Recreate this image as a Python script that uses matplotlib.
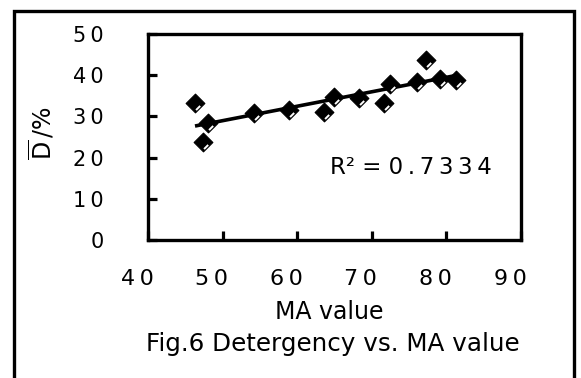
import numpy as np
import matplotlib
matplotlib.use("Agg")
import matplotlib.pyplot as plt
import matplotlib.transforms as mtransforms
from matplotlib.path import Path
from matplotlib.patches import Rectangle

# ---- data ----
ma_value = [46.3, 47.4, 48.1, 54.2, 58.9, 63.6, 65.0, 68.3, 71.7, 72.4, 76.1, 77.2, 79.2, 81.3]
detergency = [33.2, 23.9, 28.3, 30.8, 31.6, 31.1, 34.6, 34.4, 33.3, 37.9, 38.4, 43.7, 39.0, 38.8]
xticks = [40, 50, 60, 70, 80, 90]
yticks = [0, 10, 20, 30, 40, 50]
xtick_labels = ["40", "50", "60", "70", "80", "90"]
ytick_labels = ["0", "10", "20", "30", "40", "50"]
r2_text = "R² = 0.7334"
xlabel_text = "MA value"
caption_text = "Fig.6 Detergency vs. MA value"

TH = "\u2009"  # thin space used as letter spacing


def spaced(s):
    return TH.join(list(s))


plt.rcParams['font.family'] = ['DejaVu Sans']
plt.rcParams['mathtext.fontset'] = 'dejavusans'

W, H, DPI = 581, 378, 100
fig = plt.figure(figsize=(W / DPI, H / DPI), dpi=DPI)
fig.patch.set_facecolor('white')

# axes box in pixels: left 148, right 521, top 34, bottom 240
L, R, T, B = 148, 521, 34, 240
ax = fig.add_axes([L / W, 1 - B / H, (R - L) / W, (B - T) / H])
ax.set_xlim(40, 90)
ax.set_ylim(0, 50)

for sp in ax.spines.values():
    sp.set_linewidth(2.4)
    sp.set_color('black')

# trend line (least squares)
slope, intercept = np.polyfit(ma_value, detergency, 1)
xs = np.array([min(ma_value), max(ma_value)])
ax.plot(xs, slope * xs + intercept, color='black', lw=2.6, zorder=2,
        solid_capstyle='butt')

# diamond markers with white highlight streak
diamond = Path([(1, 0), (0, 1), (-1, 0), (0, -1), (1, 0)],
               [Path.MOVETO, Path.LINETO, Path.LINETO, Path.LINETO, Path.CLOSEPOLY])
streak = Path([(1, 1), (0.06, -0.70), (0.50, -0.26)],
              [Path.MOVETO, Path.MOVETO, Path.LINETO])
ms = 13.5
ax.plot(ma_value, detergency, ls='none', marker=diamond, ms=ms,
        mfc='black', mec='black', mew=0.8, zorder=3)
ax.plot(ma_value, detergency, ls='none', marker=streak, ms=ms,
        mfc='none', mec='white', mew=1.4, zorder=4)

# ticks
ax.set_xticks(xticks)
ax.set_xticklabels([spaced(s) for s in xtick_labels], fontsize=16)
ax.set_yticks(yticks)
ax.set_yticklabels([spaced(s) for s in ytick_labels], fontsize=15)
ax.tick_params(axis='x', direction='in', length=6.5, width=2.3, pad=21,
               top=False)
ax.tick_params(axis='y', direction='in', length=6.5, width=2.3, pad=32,
               right=False)
# x tick labels sit slightly left of their ticks in the reference
off = mtransforms.ScaledTranslation(-11 / DPI, 0, fig.dpi_scale_trans)
for lbl in ax.get_xticklabels():
    lbl.set_transform(lbl.get_transform() + off)

# axis labels
ax.set_xlabel(xlabel_text, fontsize=17)
ax.xaxis.label.set_va('baseline')
ax.xaxis.set_label_coords(0.485, (B - 319) / (B - T))

ax.set_ylabel('$\\overline{\\mathrm{D}}$' + TH + '/%', fontsize=17)
ax.yaxis.label.set_va('center')
ax.yaxis.set_label_coords((42 - L) / (R - L), (B - 133) / (B - T))

# R^2 annotation
r2_display = r2_text.split('=')[0] + '= ' + spaced(r2_text.split('= ')[1])
ax.text((330 - L) / (R - L), (B - 174) / (B - T), r2_display,
        transform=ax.transAxes, fontsize=16.5, ha='left', va='baseline')

# caption
fig.text(333 / W, 1 - 351 / H, caption_text, fontsize=17.7,
         ha='center', va='baseline')

# outer frame (bottom edge lies outside the picture)
frame = Rectangle((13.5 / W, -0.2), (573.5 - 13.5) / W, 1.2 - 11 / H,
                  transform=fig.transFigure, fill=False, lw=2.4,
                  edgecolor='black', clip_on=False)
fig.add_artist(frame)

fig.savefig('out.png', dpi=DPI)
